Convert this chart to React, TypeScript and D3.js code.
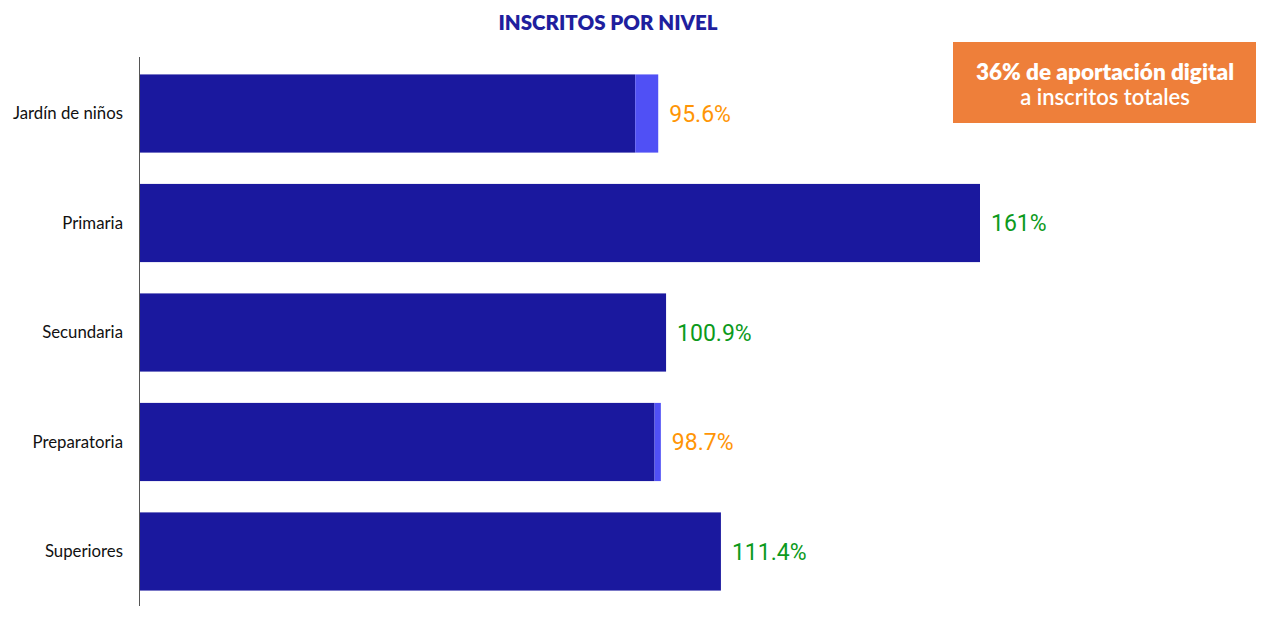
import React from "react";
import * as d3 from "d3";

const categories = ["Jardín de niños", "Primaria", "Secundaria", "Preparatoria", "Superiores"];
const baseValues = [95.0, 161, 100.9, 98.7, 111.4];
const digitalValues = [4.4, 0, 0, 1.2, 0];
const labelTexts = ["95.6%", "161%", "100.9%", "98.7%", "111.4%"];
const labelIsGreen = [false, true, true, false, true];

const W = 1276;
const H = 624;

export default function App() {
  const y = d3.scaleBand<string>().domain(categories).range([58, 607]).paddingInner(0.286).paddingOuter(0.15);
  const x = d3.scaleLinear().domain([0, 161]).range([139, 980]);
  const bw = y.bandwidth();
  return (
    <svg width={W} height={H} style={{ position: "absolute", left: 0, top: 0, background: "#fff" }}>
      <text x={608} y={30} textAnchor="middle" fontFamily="Lato, 'Open Sans', sans-serif" fontWeight={800} fontSize={20.5} fill="#1f1f9e">
        INSCRITOS POR NIVEL
      </text>
      {categories.map((c, i) => {
        const y0 = y(c)!;
        const end = x(baseValues[i] + digitalValues[i]);
        return (
          <g key={c}>
            <rect x={x(0)} y={y0} width={x(baseValues[i]) - x(0)} height={bw} fill="#1a189e" />
            {digitalValues[i] > 0 && (
              <rect x={x(baseValues[i])} y={y0} width={x(baseValues[i] + digitalValues[i]) - x(baseValues[i])} height={bw} fill="#5050f5" />
            )}
            <text x={123} y={y0 + bw / 2} dy="0.35em" textAnchor="end" fontFamily="Lato, 'Open Sans', sans-serif" fontSize={16.8} fill="#111">
              {c}
            </text>
            <text x={end + 11} y={y0 + bw / 2} dy="0.36em" fontFamily="Roboto, 'Noto Sans', sans-serif" fontSize={23} fill={labelIsGreen[i] ? "#0c9a1c" : "#ff9505"}>
              {labelTexts[i]}
            </text>
          </g>
        );
      })}
      <line x1={139.5} x2={139.5} y1={57} y2={606} stroke="#555" strokeWidth={1} />
      <rect x={953} y={42} width={303} height={81} fill="#ee7f3a" />
      <text x={1105} y={80} textAnchor="middle" fontFamily="Lato, 'Open Sans', sans-serif" fontWeight={800} fontSize={22.5} fill="#fff">
        36% de aportación digital
      </text>
      <text x={1105} y={105} textAnchor="middle" fontFamily="Lato, 'Open Sans', sans-serif" fontWeight={600} fontSize={22} fill="#fff">
        a inscritos totales
      </text>
    </svg>
  );
}
